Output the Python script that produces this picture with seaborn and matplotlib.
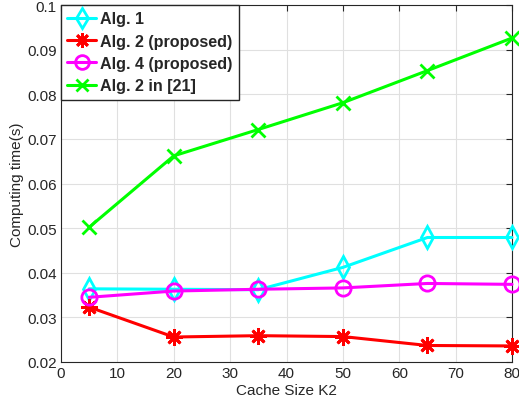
import matplotlib
matplotlib.use("Agg")
import matplotlib.pyplot as plt
import seaborn as sns
import pandas as pd

cache_size = [5, 20, 35, 50, 65, 80]
alg1 = [0.0364, 0.0363, 0.0362, 0.0412, 0.0479, 0.0479]
alg2_proposed = [0.0323, 0.0256, 0.0259, 0.0257, 0.0237, 0.0236]
alg4_proposed = [0.0345, 0.0359, 0.0363, 0.0366, 0.0376, 0.0374]
alg2_ref21 = [0.0502, 0.0662, 0.0721, 0.0781, 0.0853, 0.0926]

series_names = ["Alg. 1", "Alg. 2 (proposed)", "Alg. 4 (proposed)", "Alg. 2 in [21]"]
series_vals = [alg1, alg2_proposed, alg4_proposed, alg2_ref21]
colors = ["#00ffff", "#ff0000", "#ff00ff", "#00ff00"]
markers = ["d", (8, 2, 0), "o", "x"]
msizes = [11, 12, 11, 10]

sns.set_theme(style="whitegrid")
plt.rcParams["font.family"] = ["Liberation Sans", "DejaVu Sans"]

fig = plt.figure(figsize=(5.19, 4.14), dpi=100)
ax = fig.add_axes([61/519, 1-363/414, (512-61)/519, (363-6)/414])

for name, vals, c, m, ms in zip(series_names, series_vals, colors, markers, msizes):
    df = pd.DataFrame({"K2": cache_size, "t": vals})
    sns.lineplot(data=df, x="K2", y="t", ax=ax, color=c, marker=m, markersize=ms,
                 linewidth=2.2, label=name, markerfacecolor="none",
                 markeredgecolor=c, markeredgewidth=2, clip_on=False, zorder=3)

ax.set_xlim(0, 80)
ax.set_ylim(0.02, 0.1)
ax.set_xticks(range(0, 81, 10))
ax.set_yticks([0.02, 0.03, 0.04, 0.05, 0.06, 0.07, 0.08, 0.09, 0.1])
ax.set_yticklabels(["0.02", "0.03", "0.04", "0.05", "0.06", "0.07", "0.08", "0.09", "0.1"])
ax.set_xlabel("Cache Size K2", fontsize=11, color="#262626", labelpad=2)
ax.set_ylabel("Computing time(s)", fontsize=11, color="#262626", labelpad=2)
ax.tick_params(axis="both", labelsize=11, colors="#262626", direction="in",
               length=4, width=0.8, top=True, right=True, pad=3)
ax.set_facecolor("white")
ax.grid(True, color="#e0e0e0", linewidth=0.8)
for s in ax.spines.values():
    s.set_color("#262626")
    s.set_linewidth(0.8)

leg = ax.legend(loc="upper left", bbox_to_anchor=(0.0, 1.0), frameon=True, fancybox=False,
                prop={"weight": "bold", "size": 11.6}, borderaxespad=0, handlelength=1.8,
                handletextpad=0.25, labelspacing=0.45, borderpad=0.4, markerscale=0.9)
leg.get_frame().set_edgecolor("#262626")
leg.get_frame().set_linewidth(1.0)
leg.get_frame().set_alpha(1)

fig.savefig("out.png", dpi=100)
